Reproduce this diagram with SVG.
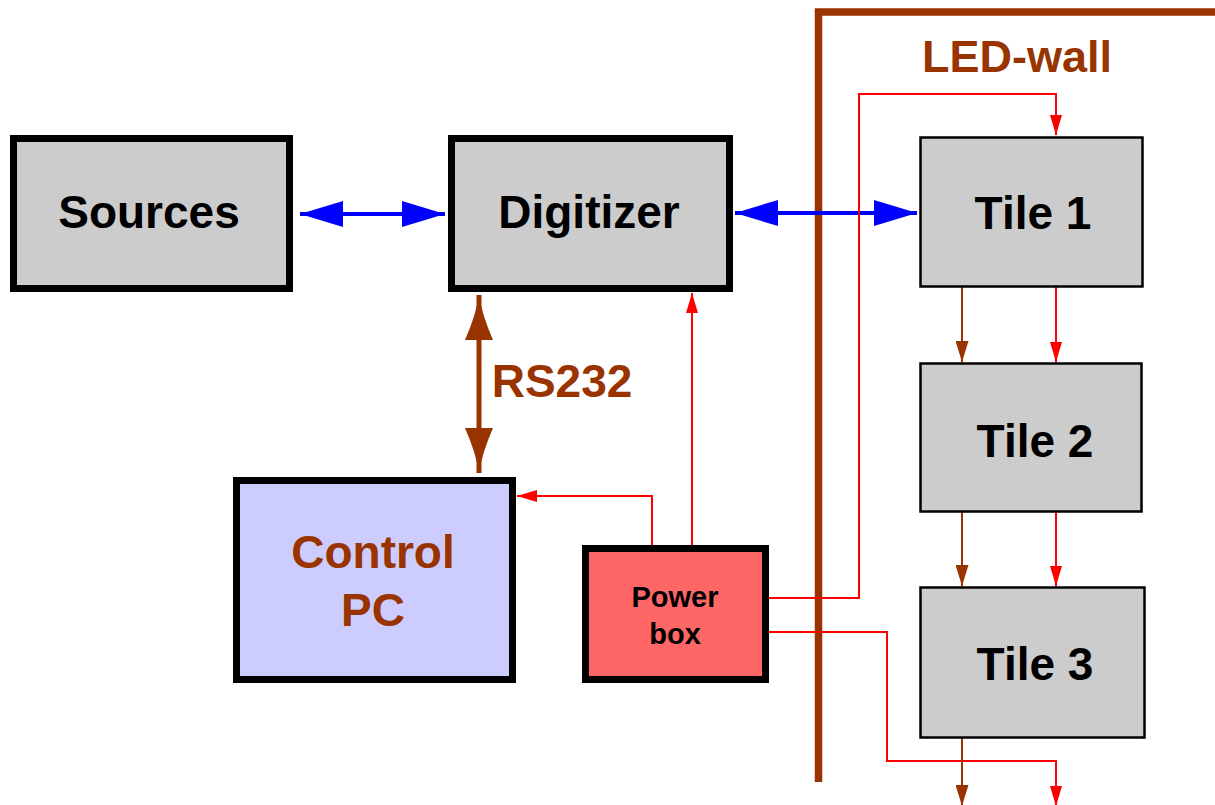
<svg xmlns="http://www.w3.org/2000/svg" width="1215" height="805" viewBox="0 0 1215 805">
<style>
text{font-family:"Liberation Sans",Arial,sans-serif;font-weight:bold;text-anchor:middle}
.big{stroke:#000;stroke-width:7;stroke-linejoin:miter}
.gray{fill:#cccccc}
.tile{fill:#cccccc;stroke:#000;stroke-width:2.5}
.lbl{font-size:46px;fill:#000}
.brn{fill:#993300}
.blue{stroke:#0000ff;stroke-width:4;fill:none}
.red{stroke:#ff0000;stroke-width:2;fill:none}
.bw{stroke:#993300;stroke-width:2;fill:none}
</style>
<defs>
<marker id="ab" markerUnits="userSpaceOnUse" viewBox="0 0 43 26" refX="43" refY="13" markerWidth="43" markerHeight="26" orient="auto-start-reverse"><path d="M0,0 L43,13 L0,26 z" fill="#0000ff"/></marker>
<marker id="ar" markerUnits="userSpaceOnUse" viewBox="0 0 20 12" refX="20" refY="6" markerWidth="20" markerHeight="12" orient="auto"><path d="M0,0 L20,6 L0,12 z" fill="#ff0000"/></marker>
<marker id="abr" markerUnits="userSpaceOnUse" viewBox="0 0 21 13" refX="21" refY="6.5" markerWidth="21" markerHeight="13" orient="auto"><path d="M0,0 L21,6.5 L0,13 z" fill="#993300"/></marker>
<marker id="abig" markerUnits="userSpaceOnUse" viewBox="0 0 45 28" refX="45" refY="14" markerWidth="45" markerHeight="28" orient="auto-start-reverse"><path d="M0,0 Q25,11 45,14 Q25,17 0,28 z" fill="#993300"/></marker>
</defs>

<g id="wall">
<path d="M818.5,782 V12 H1215" fill="none" stroke="#993300" stroke-width="7.5"/>
<text x="1017" y="72" font-size="45" class="brn">LED-wall</text>
</g>

<g id="connectors">
<line class="blue" x1="300" y1="214" x2="445" y2="214" marker-start="url(#ab)" marker-end="url(#ab)"/>
<line class="blue" x1="735" y1="213" x2="917" y2="213" marker-start="url(#ab)" marker-end="url(#ab)"/>
<line x1="479" y1="295" x2="479" y2="473" stroke="#993300" stroke-width="5" marker-start="url(#abig)" marker-end="url(#abig)"/>
<text x="562" y="397" font-size="46" class="brn">RS232</text>
<path class="red" d="M692,545 V293" marker-end="url(#ar)"/>
<path class="red" d="M652,545 V496 H517" marker-end="url(#ar)"/>
<path class="red" d="M769,598 H859 V94 H1056 V135" marker-end="url(#ar)"/>
<path class="red" d="M769,632 H887 V761 H1056 V806" marker-end="url(#ar)"/>
<path class="bw" d="M962,287 V362" marker-end="url(#abr)"/>
<path class="red" d="M1056,287 V362" marker-end="url(#ar)"/>
<path class="bw" d="M962,512 V586" marker-end="url(#abr)"/>
<path class="red" d="M1056,512 V586" marker-end="url(#ar)"/>
<path class="bw" d="M962,738 V806" marker-end="url(#abr)"/>
</g>

<g id="sources">
<rect x="13.5" y="138.5" width="276" height="150" class="big gray"/>
<text x="149" y="228" class="lbl">Sources</text>
</g>
<g id="digitizer">
<rect x="451.5" y="138.5" width="278" height="150" class="big gray"/>
<text x="589" y="228" class="lbl">Digitizer</text>
</g>
<g id="controlpc">
<rect x="236.5" y="480.5" width="276" height="199" class="big" fill="#ccccff"/>
<text x="373" y="568" font-size="46" class="brn">Control</text>
<text x="373" y="626" font-size="46" class="brn">PC</text>
</g>
<g id="powerbox">
<rect x="585.5" y="548.5" width="180" height="131" class="big" fill="#ff6666"/>
<text x="675" y="607" font-size="29" fill="#000">Power</text>
<text x="675" y="644" font-size="29" fill="#000">box</text>
</g>
<g id="tile1">
<rect x="920.5" y="137.5" width="222" height="149" class="tile"/>
<text x="1033" y="229" class="lbl">Tile 1</text>
</g>
<g id="tile2">
<rect x="920.5" y="363.5" width="221" height="148" class="tile"/>
<text x="1035" y="457" class="lbl">Tile 2</text>
</g>
<g id="tile3">
<rect x="920.5" y="587.5" width="224" height="150" class="tile"/>
<text x="1035" y="680" class="lbl">Tile 3</text>
</g>
</svg>
